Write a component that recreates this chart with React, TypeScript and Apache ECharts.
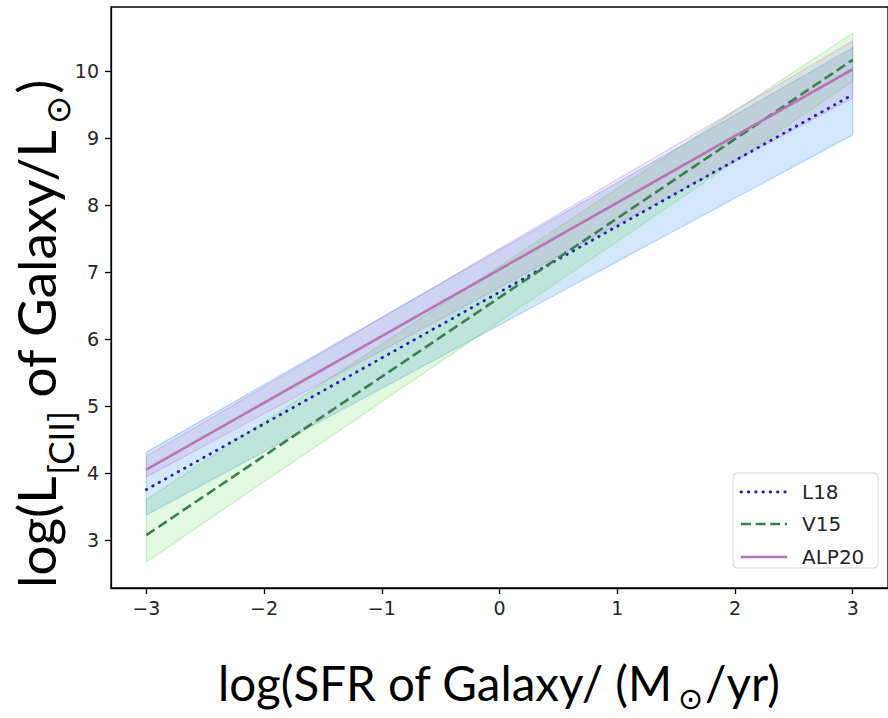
import React, { useEffect, useRef } from 'react';
import * as echarts from 'echarts';

// x positions where the relations were read (straight lines)
const xEnds = [-3, 3];
// L18 (dotted blue)
const l18Line = [3.75, 9.65];
const l18Low = [3.37, 9.05];
const l18High = [4.31, 10.35];
// V15 (dashed green)
const v15Line = [3.07, 10.17];
const v15Low = [2.67, 9.85];
const v15High = [3.6, 10.57];
// ALP20 (solid violet)
const alpLine = [4.05, 10.03];
const alpLow = [3.94, 9.6];
const alpHigh = [4.25, 10.45];

const xTicks = [-3, -2, -1, 0, 1, 2, 3];
const yTicks = [3, 4, 5, 6, 7, 8, 9, 10];
const seriesNames = ['L18', 'V15', 'ALP20'];

const colL18 = '#2020b0';
const colV15 = '#3b7f4f';
const colALP = '#b673b6';
const dotDash = [0.5, 6.8];
const dashDash = [10, 4.6];

const fmt = (v: number) => String(v).replace('-', '\u2212');

function band(name: string, low: number[], high: number[], fill: string, stroke: string) {
  return {
    type: 'custom',
    name,
    silent: true,
    z: 1,
    data: xEnds.map((x, i) => [x, low[i], high[i]]),
    encode: { x: 0, y: [1, 2] },
    renderItem: (params: any, api: any) => {
      if (params.dataIndex !== 0) return null;
      const n = xEnds.length;
      const pts: number[][] = [];
      for (let i = 0; i < n; i++) pts.push(api.coord([xEnds[i], low[i]]));
      for (let i = n - 1; i >= 0; i--) pts.push(api.coord([xEnds[i], high[i]]));
      return {
        type: 'polygon',
        shape: { points: pts },
        style: { fill, stroke, lineWidth: 1.2 },
      };
    },
  };
}

export default function App() {
  const ref = useRef<HTMLDivElement>(null);
  useEffect(() => {
    if (!ref.current) return;
    const chart = echarts.init(ref.current, undefined, { renderer: 'svg' });
    const tickFont = { fontFamily: 'DejaVu Sans', fontSize: 19, color: '#262626' };

    // legend drawn by hand (box, line samples, labels)
    const lgX = 733, lgY = 473, lgW = 145, lgH = 95;
    const rowY = [492, 524, 557];
    const styles = [
      { stroke: colL18, lineWidth: 2.8, lineDash: dotDash, lineCap: 'round' },
      { stroke: colV15, lineWidth: 2.6, lineDash: dashDash },
      { stroke: colALP, lineWidth: 2.6 },
    ];
    const legendEls: any[] = [
      {
        type: 'rect',
        shape: { x: lgX, y: lgY, width: lgW, height: lgH, r: 4 },
        style: { fill: 'rgba(255,255,255,0.85)', stroke: '#d4d4d4', lineWidth: 1 },
        z: 50,
      },
    ];
    seriesNames.forEach((nm, i) => {
      legendEls.push({
        type: 'line',
        shape: { x1: 741, y1: rowY[i], x2: 787, y2: rowY[i] },
        style: styles[i],
        z: 51,
      });
      legendEls.push({
        type: 'text',
        x: 802,
        y: rowY[i],
        style: {
          text: nm,
          fontFamily: 'DejaVu Sans',
          fontSize: 20,
          fill: '#262626',
          align: 'left',
          verticalAlign: 'middle',
        },
        z: 51,
      });
    });

    chart.setOption({
      animation: false,
      grid: {
        left: 111,
        top: 7,
        width: 779,
        height: 581,
        show: true,
        borderColor: '#000',
        borderWidth: 1.3,
        backgroundColor: 'transparent',
      },
      xAxis: {
        type: 'value',
        min: -3.3,
        max: 3.3,
        splitLine: { show: false },
        axisLine: { show: true, onZero: false, lineStyle: { color: '#000', width: 1.3 } },
        axisTick: { show: true, length: 6, customValues: xTicks, lineStyle: { color: '#000', width: 1.3 } },
        axisLabel: { ...tickFont, margin: 10, customValues: xTicks, formatter: fmt },
      },
      yAxis: {
        type: 'value',
        min: 2.28,
        max: 10.96,
        splitLine: { show: false },
        axisLine: { show: true, onZero: false, lineStyle: { color: '#000', width: 1.3 } },
        axisTick: { show: true, length: 6, customValues: yTicks, lineStyle: { color: '#000', width: 1.3 } },
        axisLabel: { ...tickFont, margin: 12, customValues: yTicks, formatter: fmt },
      },
      series: [
        band('L18 band', l18Low, l18High, 'rgba(70,155,240,0.24)', 'rgba(70,155,240,0.35)'),
        band('V15 band', v15Low, v15High, 'rgba(110,220,100,0.2)', 'rgba(110,220,100,0.35)'),
        band('ALP20 band', alpLow, alpHigh, 'rgba(190,110,200,0.17)', 'rgba(190,110,200,0.3)'),
        {
          type: 'line',
          name: 'L18',
          z: 3,
          symbol: 'none',
          data: xEnds.map((x, i) => [x, l18Line[i]]),
          lineStyle: { color: colL18, width: 2.8, type: dotDash, cap: 'round' },
        },
        {
          type: 'line',
          name: 'V15',
          z: 3,
          symbol: 'none',
          data: xEnds.map((x, i) => [x, v15Line[i]]),
          lineStyle: { color: colV15, width: 2.6, type: dashDash },
        },
        {
          type: 'line',
          name: 'ALP20',
          z: 3,
          symbol: 'none',
          data: xEnds.map((x, i) => [x, alpLine[i]]),
          lineStyle: { color: colALP, width: 2.6 },
        },
      ],
      graphic: [
        ...legendEls,
        {
          type: 'text',
          x: 218,
          y: 682,
          style: {
            text: '{b|log(SFR of Galaxy/ (M}{s|\u2299}{b|/yr)}',
            align: 'left',
            verticalAlign: 'middle',
            rich: {
              b: { fontFamily: 'Lato', fontSize: 47.5, lineHeight: 56, fill: '#000' },
              s: { fontFamily: 'DejaVu Sans', fontSize: 30, lineHeight: 26, padding: [33, 2, 0, 5], fill: '#000' },
            },
          },
        },
        {
          type: 'text',
          x: 35,
          y: 588,
          rotation: Math.PI / 2,
          style: {
            text: '{b|log(L}{s|[CII]}{b| of Galaxy/L}{o|\u2299}{b|)}',
            align: 'left',
            verticalAlign: 'middle',
            rich: {
              b: { fontFamily: 'Lato', fontSize: 53, lineHeight: 60, fill: '#000' },
              s: { fontFamily: 'Lato', fontSize: 35, lineHeight: 36, padding: [50, 0, 0, 2], fill: '#000' },
              o: { fontFamily: 'DejaVu Sans', fontSize: 34, lineHeight: 36, padding: [46, 2, 0, 5], fill: '#000' },
            },
          },
        },
      ],
    });
    return () => chart.dispose();
  }, []);
  return <div ref={ref} style={{ position: 'absolute', left: 0, top: 0, width: 888, height: 718 }} />;
}
